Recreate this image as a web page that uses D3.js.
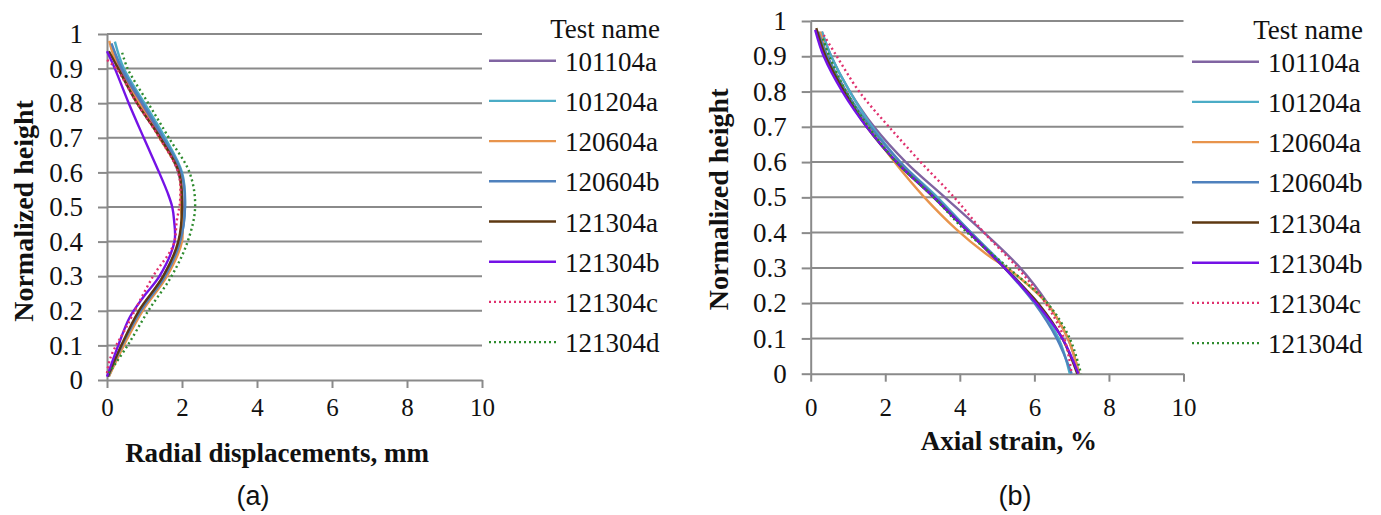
<!DOCTYPE html>
<html>
<head>
<meta charset="utf-8">
<script src="https://cdn.jsdelivr.net/npm/d3@7"></script>
<style>
  body { margin: 0; background: #fff; }
  text { font-family: "Liberation Serif", "Times New Roman", serif; fill: #111; }
</style>
</head>
<body>
<script>
// test names, legend order
var testNames = ["101104a", "101204a", "120604a", "120604b", "121304a", "121304b", "121304c", "121304d"];

// (a) radial displacement [mm, normalized height]
var radial101104a = [[0.02,0.01],[0.4,0.1],[0.88,0.2],[1.5,0.3],[1.93,0.4],[2.02,0.5],[1.9,0.6],[1.45,0.7],[0.9,0.8],[0.35,0.9],[0.1,0.965]];
var radial101204a = [[0.05,0.01],[0.4,0.1],[0.9,0.2],[1.55,0.3],[1.95,0.4],[2.08,0.5],[2.0,0.6],[1.55,0.7],[1.0,0.8],[0.45,0.9],[0.21,0.978]];
var radial120604a = [[0.05,0.01],[0.45,0.1],[0.95,0.2],[1.6,0.3],[2.0,0.4],[1.97,0.5],[1.92,0.6],[1.4,0.7],[0.85,0.8],[0.3,0.9],[0.06,0.98]];
var radial120604b = [[0.03,0.01],[0.4,0.1],[0.9,0.2],[1.55,0.3],[1.95,0.4],[2.08,0.5],[1.98,0.6],[1.5,0.7],[0.95,0.8],[0.4,0.9],[0.12,0.973]];
var radial121304a = [[0.02,0.01],[0.38,0.1],[0.85,0.2],[1.5,0.3],[1.9,0.4],[2.0,0.5],[1.92,0.6],[1.42,0.7],[0.8,0.8],[0.3,0.9],[0.05,0.95]];
var radial121304b = [[0.0,0.01],[0.3,0.1],[0.6,0.18],[0.97,0.24],[1.4,0.3],[1.8,0.4],[1.79,0.46],[1.74,0.5],[1.62,0.54],[1.39,0.6],[0.98,0.7],[0.58,0.8],[0.21,0.9],[0.0,0.95]];
var radial121304c = [[0.0,0.02],[0.1,0.067],[0.52,0.154],[1.23,0.3],[1.77,0.39],[1.86,0.46],[1.95,0.52],[1.9,0.6],[1.4,0.7],[0.8,0.8],[0.25,0.9],[0.0,0.925]];
var radial121304d = [[0.05,0.02],[0.55,0.1],[1.1,0.2],[1.72,0.3],[2.15,0.4],[2.35,0.5],[2.2,0.6],[1.65,0.7],[1.1,0.8],[0.55,0.9],[0.39,0.952]];

// (b) axial strain [%, normalized height]
var strain101104a = [[0.3,0.97],[0.55,0.9],[1.05,0.8],[1.7,0.7],[2.55,0.6],[3.6,0.5],[4.65,0.4],[5.62,0.3],[6.35,0.2],[6.9,0.1],[7.2,0]];
var strain101204a = [[0.3,0.97],[0.55,0.9],[1.05,0.8],[1.65,0.7],[2.4,0.6],[3.4,0.5],[4.3,0.4],[5.25,0.3],[6.05,0.2],[6.65,0.1],[6.95,0]];
var strain120604a = [[0.25,0.97],[0.45,0.9],[0.95,0.8],[1.55,0.7],[2.25,0.6],[3.05,0.5],[3.9,0.41],[4.7,0.34],[5.45,0.285],[6.33,0.2],[6.9,0.1],[7.2,0]];
var strain120604b = [[0.2,0.97],[0.45,0.9],[0.95,0.8],[1.6,0.7],[2.4,0.6],[3.35,0.5],[4.3,0.4],[5.2,0.3],[6.0,0.2],[6.6,0.1],[7.0,0]];
var strain121304a = [[0.15,0.98],[0.4,0.9],[0.9,0.8],[1.5,0.7],[2.3,0.6],[3.3,0.5],[4.25,0.4],[5.2,0.3],[6.1,0.2],[6.75,0.1],[7.15,0]];
var strain121304b = [[0.12,0.975],[0.35,0.9],[0.85,0.8],[1.5,0.7],[2.3,0.6],[3.3,0.5],[4.25,0.4],[5.2,0.3],[6.05,0.2],[6.75,0.1],[7.18,0]];
var strain121304c = [[0.35,0.96],[0.7,0.9],[1.3,0.8],[2.1,0.7],[2.95,0.6],[3.85,0.5],[4.65,0.4],[5.55,0.3],[6.3,0.2],[6.8,0.1],[7.0,0]];
var strain121304d = [[0.33,0.95],[0.5,0.9],[0.95,0.8],[1.55,0.7],[2.3,0.6],[3.3,0.5],[4.2,0.4],[5.3,0.3],[6.35,0.2],[6.95,0.1],[7.25,0]];

var radialSeries = [radial101104a, radial101204a, radial120604a, radial120604b, radial121304a, radial121304b, radial121304c, radial121304d];
var strainSeries = [strain101104a, strain101204a, strain120604a, strain120604b, strain121304a, strain121304b, strain121304c, strain121304d];

// axis ticks
var xTicks = [0, 2, 4, 6, 8, 10];
var yTicks = [0, 0.1, 0.2, 0.3, 0.4, 0.5, 0.6, 0.7, 0.8, 0.9, 1];

// line styles
var colors = ["#8064a2", "#4bacc6", "#e8944c", "#4f81bd", "#5e3812", "#7412e6", "#e0306e", "#2e8b2e"];
var dashes = [null, null, null, null, null, null, "2,3", "2,3"];
var gridColor = "#8a8a8a";

var svg = d3.select("body").append("svg")
  .attr("width", 1381)
  .attr("height", 515);

svg.append("rect").attr("width", 1381).attr("height", 515).attr("fill", "#fff");

function drawPanel(opt) {
  var x = d3.scaleLinear().domain([0, 10]).range([opt.left, opt.right]);
  var y = d3.scaleLinear().domain([0, 1]).range([opt.bottom, opt.top]);
  var g = svg.append("g");

  // horizontal gridlines
  g.selectAll(".grid")
    .data(yTicks.slice(1))
    .enter()
    .append("line")
    .attr("x1", x(0)).attr("x2", x(10))
    .attr("y1", function (d) { return y(d); })
    .attr("y2", function (d) { return y(d); })
    .attr("stroke", gridColor)
    .attr("stroke-width", 2);

  // axes
  var yAxis = g.append("g")
    .attr("transform", "translate(" + x(0) + ",0)")
    .call(d3.axisLeft(y).tickValues(yTicks).tickSize(9).tickSizeOuter(0).tickPadding(15)
      .tickFormat(function (d) { return String(d); }));
  var xAxis = g.append("g")
    .attr("transform", "translate(0," + y(0) + ")")
    .call(d3.axisBottom(x).tickValues(xTicks).tickSize(8).tickSizeOuter(0).tickPadding(12));

  [yAxis, xAxis].forEach(function (a) {
    a.select(".domain").attr("stroke", gridColor).attr("stroke-width", 2);
    a.selectAll(".tick line").attr("stroke", gridColor).attr("stroke-width", 2);
    a.selectAll(".tick text")
      .style("font-family", "'Liberation Serif', 'Times New Roman', serif")
      .attr("fill", "#111");
  });
  yAxis.selectAll(".tick text").style("font-size", "27px");
  xAxis.selectAll(".tick text").style("font-size", "25px")
    .attr("y", opt.xLabelY - y(0)).attr("dy", 0);

  // series
  var line = d3.line()
    .x(function (d) { return x(d[0]); })
    .y(function (d) { return y(d[1]); })
    .curve(d3.curveCatmullRom.alpha(0.5));

  g.selectAll(".series")
    .data(opt.series)
    .enter()
    .append("path")
    .attr("class", "series")
    .attr("d", line)
    .attr("fill", "none")
    .attr("stroke", function (d, i) { return colors[i]; })
    .attr("stroke-width", 2.4)
    .attr("stroke-dasharray", function (d, i) { return dashes[i]; });

  // axis titles
  g.append("text")
    .attr("transform", "translate(" + opt.yTitleX + "," + ((opt.top + opt.bottom) / 2 + opt.yTitleShift) + ")rotate(-90)")
    .attr("text-anchor", "middle")
    .style("font-size", "28px")
    .style("font-weight", "bold")
    .text("Normalized height");

  g.append("text")
    .attr("x", opt.xTitleX)
    .attr("y", opt.xTitleY)
    .attr("text-anchor", "middle")
    .style("font-size", "27px")
    .style("font-weight", "bold")
    .text(opt.xTitle);

  g.append("text")
    .attr("x", opt.capX)
    .attr("y", 505)
    .attr("text-anchor", "middle")
    .style("font-family", "'Liberation Sans', Arial, sans-serif")
    .style("font-size", "27px")
    .text(opt.caption);

  // legend
  var lg = g.append("g");
  lg.append("text")
    .attr("x", opt.legTextX + 95)
    .attr("y", opt.legTop - 23)
    .attr("text-anchor", "end")
    .style("font-size", "27px")
    .text("Test name");

  var item = lg.selectAll(".item")
    .data(testNames)
    .enter()
    .append("g")
    .attr("transform", function (d, i) { return "translate(0," + (opt.legTop + i * 40.2) + ")"; });

  item.append("line")
    .attr("x1", opt.legLineX).attr("x2", opt.legLineX + 67)
    .attr("stroke", function (d, i) { return colors[i]; })
    .attr("stroke-width", 2.4)
    .attr("stroke-dasharray", function (d, i) { return dashes[i]; });

  item.append("text")
    .attr("x", opt.legTextX)
    .attr("y", 10)
    .style("font-size", "27px")
    .text(function (d) { return d; });
}

drawPanel({
  left: 107, right: 482, top: 34, bottom: 380,
  series: radialSeries, xLabelY: 416,
  yTitleX: 33, yTitleShift: 4, xTitle: "Radial displacements, mm", xTitleX: 277, xTitleY: 462,
  caption: "(a)", capX: 253,
  legLineX: 489, legTextX: 565, legTop: 60.7
});

drawPanel({
  left: 810.7, right: 1183.5, top: 21, bottom: 373.7,
  series: strainSeries, xLabelY: 416,
  yTitleX: 728, yTitleShift: 2, xTitle: "Axial strain, %", xTitleX: 1009, xTitleY: 450,
  caption: "(b)", capX: 1015,
  legLineX: 1192, legTextX: 1268, legTop: 61.7
});
</script>
</body>
</html>
